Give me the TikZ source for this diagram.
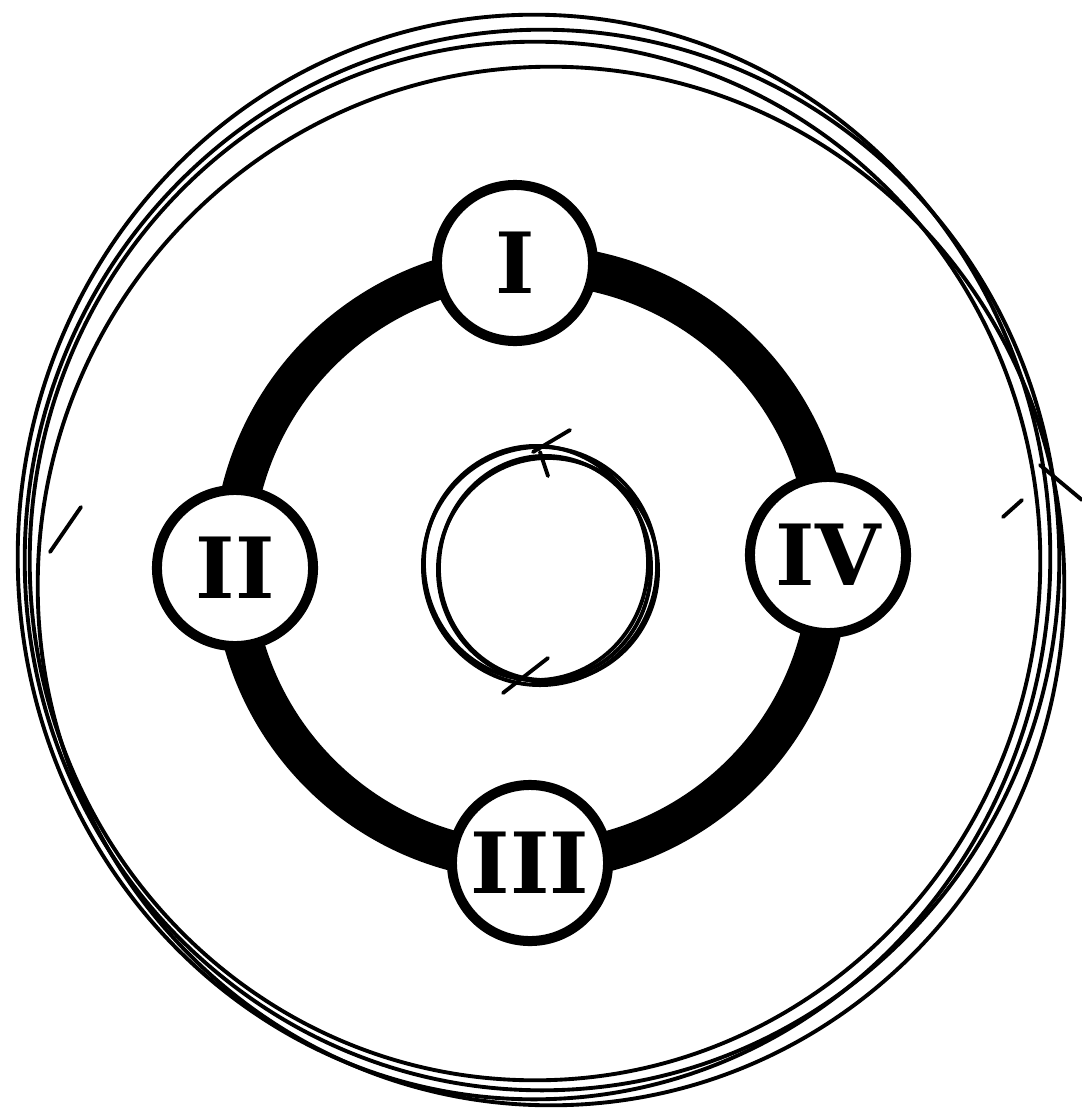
\documentclass[tikz,border=0pt]{standalone}
\usepackage{fontspec}
\newfontfamily\numfont{DejaVu Serif}
\usepackage{tikz}
\usetikzlibrary{positioning}

\begin{document}
\begin{tikzpicture}[x=0.01cm, y=-0.01cm,
		wire/.style={line width=1.1pt, line cap=round},
		numeral/.style={draw, circle, line width=0.1cm, fill=white, minimum size=1.56cm, inner sep=0pt,
			font=\numfont\bfseries\fontsize{24}{24}\selectfont}]
		\useasboundingbox (0,0) rectangle (1082,1112);
		% outer winding, drawn by hand several times
		\draw[wire] (534,557) ellipse [x radius=5.16cm, y radius=5.42cm];
		\draw[wire] (542,560) ellipse [x radius=5.17cm, y radius=5.30cm];
		\draw[wire] (535,561) ellipse [x radius=5.05cm, y radius=5.19cm];
		\draw[wire] (551,586) ellipse [x radius=5.13cm, y radius=5.19cm];
		\draw[wire] (81,507) -- (50,552);
		\draw[wire] (1003,517) -- (1022,500);
		\draw[wire] (1040,465) -- (1082,500);
		% thick ring
		\draw[line width=0.40cm] (531,563) circle [radius=2.98cm];
		\node[numeral] (one) at (515,263) {I};
		\node[numeral] (two) at (235,568) {II};
		\node[numeral] (three) at (530,863) {III};
		\node[numeral] (four) at (828,555) {IV};
		% inner winding
		\draw[wire] (540,566) ellipse [x radius=1.17cm, y radius=1.19cm];
		\draw[wire] (545,568) ellipse [x radius=1.06cm, y radius=1.12cm];
		\draw[wire] (548,570) ellipse [x radius=1.10cm, y radius=1.12cm];
		\draw[wire] (536,563) ellipse [x radius=1.12cm, y radius=1.17cm];
		\draw[wire] (570,430) -- (533,452);
		\draw[wire] (540,452) -- (548,476);
		\draw[wire] (503,693) -- (548,658);
	\end{tikzpicture}
\end{document}
